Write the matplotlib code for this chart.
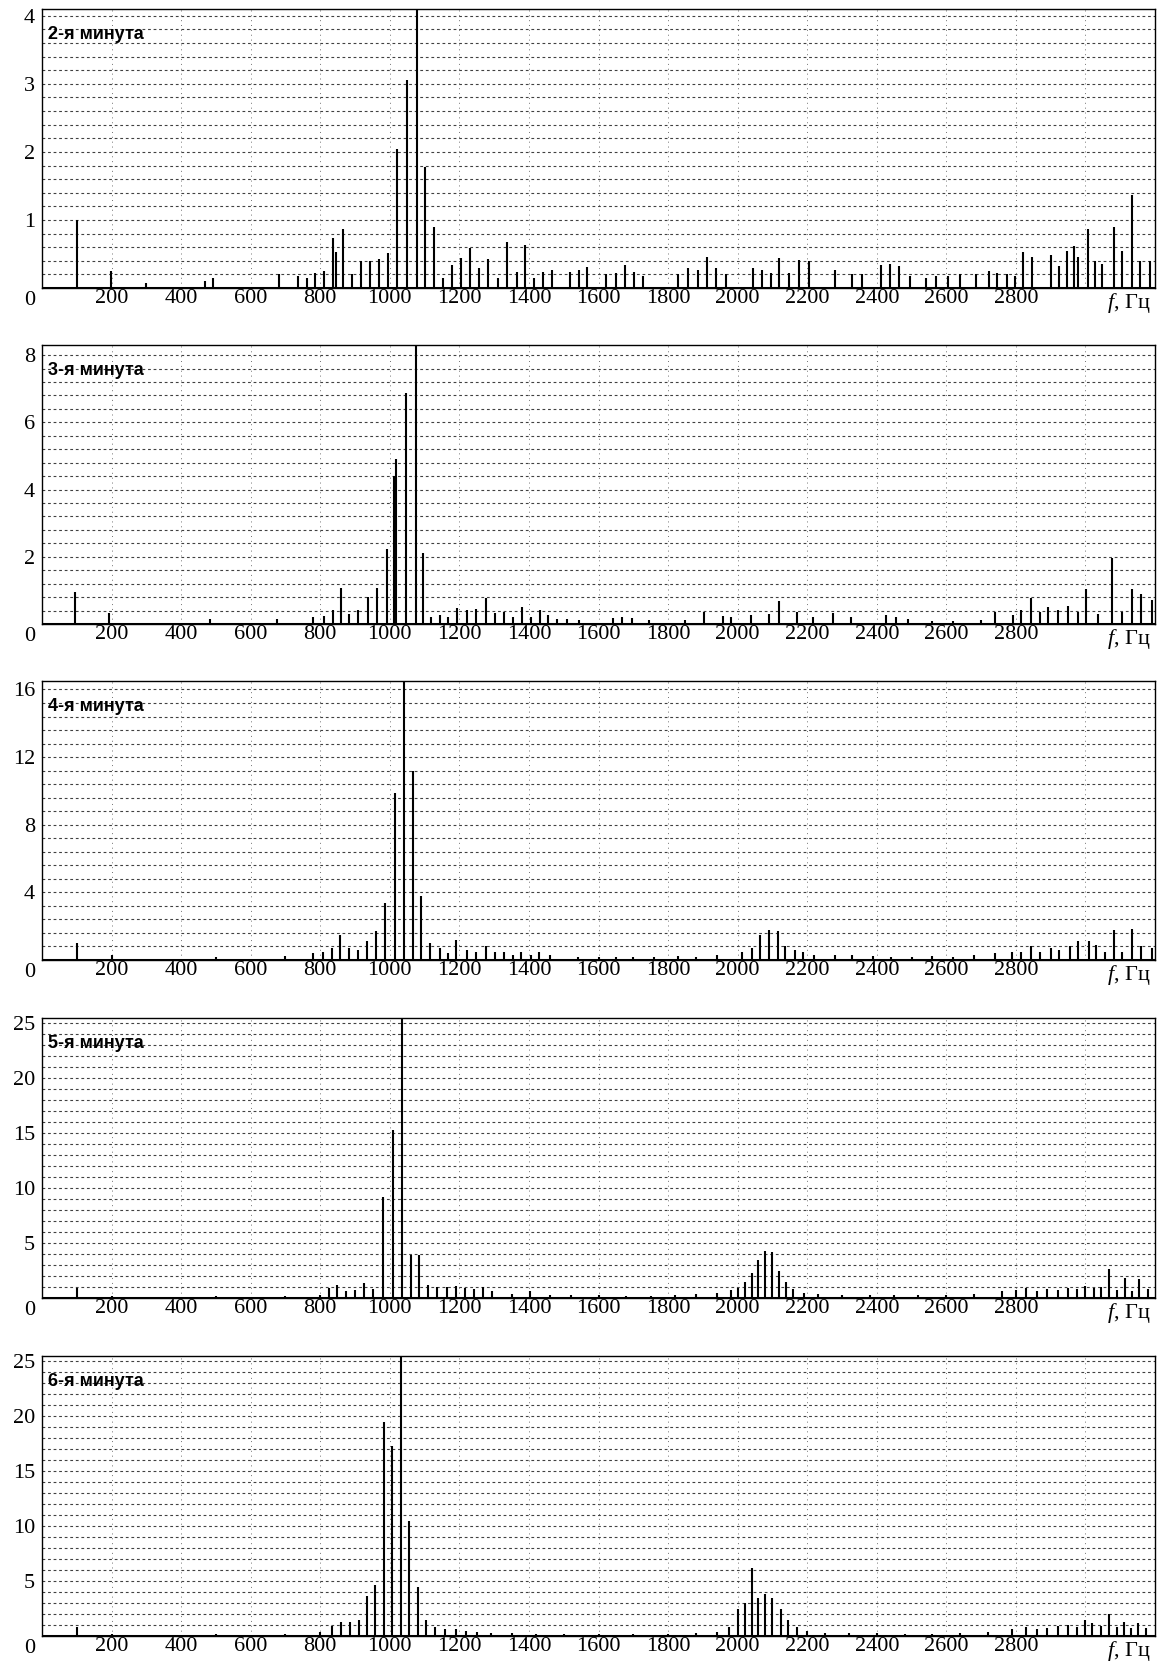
import matplotlib
matplotlib.use("Agg")
import matplotlib.pyplot as plt
import numpy as np

plt.rcParams['font.family'] = ['Liberation Serif', 'DejaVu Serif']
plt.rcParams['mathtext.fontset'] = 'custom'
plt.rcParams['mathtext.rm'] = 'Liberation Serif'
plt.rcParams['mathtext.it'] = 'Liberation Serif:italic'

# spectral lines: (frequency, Hz ; amplitude)
peaks_min2 = [
    (100, 1.0), (197, 0.25), (298, 0.08), (470, 0.1), (493, 0.15), (680, 0.2),
    (737, 0.18), (761, 0.15), (786, 0.22), (812, 0.25), (837, 0.73), (845, 0.53),
    (866, 0.87), (892, 0.2), (917, 0.39), (943, 0.39), (969, 0.42), (995, 0.52),
    (1021, 2.05), (1049, 3.05), (1078, 4.1), (1101, 1.78), (1127, 0.9), (1153, 0.15),
    (1178, 0.34), (1204, 0.44), (1230, 0.59), (1256, 0.3), (1282, 0.42), (1310, 0.15),
    (1336, 0.67), (1365, 0.24), (1388, 0.63), (1414, 0.15), (1440, 0.24), (1465, 0.27),
    (1517, 0.23), (1543, 0.27), (1568, 0.31), (1623, 0.2), (1649, 0.22), (1675, 0.34),
    (1701, 0.23), (1729, 0.17), (1829, 0.2), (1858, 0.29), (1887, 0.27), (1911, 0.46),
    (1938, 0.3), (1966, 0.2), (2045, 0.3), (2070, 0.27), (2097, 0.22), (2120, 0.44),
    (2148, 0.22), (2177, 0.41), (2206, 0.4), (2281, 0.27), (2330, 0.2), (2358, 0.2),
    (2412, 0.34), (2438, 0.36), (2464, 0.33), (2495, 0.17), (2541, 0.15), (2570, 0.18),
    (2604, 0.17), (2638, 0.2), (2685, 0.2), (2723, 0.25), (2745, 0.22), (2774, 0.2),
    (2797, 0.17), (2820, 0.53), (2845, 0.46), (2900, 0.49), (2923, 0.32), (2946, 0.55),
    (2966, 0.61), (2980, 0.46), (3006, 0.87), (3027, 0.4), (3047, 0.35), (3081, 0.89),
    (3104, 0.55), (3135, 1.37), (3158, 0.4), (3187, 0.4),
]

peaks_min3 = [
    (94, 0.95), (192, 0.32), (484, 0.15), (675, 0.15), (780, 0.2), (812, 0.25),
    (836, 0.42), (859, 1.08), (884, 0.3), (909, 0.42), (938, 0.81), (964, 1.08),
    (992, 2.22), (1013, 4.4), (1018, 4.92), (1046, 6.88), (1074, 8.3), (1094, 2.12),
    (1118, 0.2), (1144, 0.27), (1168, 0.2), (1193, 0.48), (1221, 0.42), (1249, 0.45),
    (1276, 0.78), (1302, 0.33), (1327, 0.37), (1354, 0.2), (1381, 0.52), (1405, 0.2),
    (1431, 0.42), (1454, 0.27), (1480, 0.15), (1510, 0.15), (1545, 0.12), (1641, 0.18),
    (1669, 0.2), (1695, 0.18), (1745, 0.12), (1850, 0.12), (1904, 0.37), (1957, 0.24),
    (1982, 0.2), (2039, 0.27), (2090, 0.3), (2119, 0.67), (2171, 0.37), (2217, 0.2),
    (2274, 0.32), (2325, 0.2), (2427, 0.27), (2455, 0.2), (2489, 0.15), (2560, 0.1),
    (2620, 0.1), (2700, 0.12), (2740, 0.37), (2791, 0.27), (2815, 0.42), (2843, 0.78),
    (2870, 0.37), (2893, 0.5), (2921, 0.42), (2951, 0.55), (2980, 0.37), (3002, 1.05),
    (3037, 0.3), (3076, 1.97), (3104, 0.37), (3133, 1.05), (3159, 0.9), (3190, 0.72),
]

peaks_min4 = [
    (100, 1.0), (200, 0.3), (500, 0.2), (700, 0.25), (780, 0.4), (808, 0.5),
    (834, 0.7), (857, 1.5), (884, 0.7), (909, 0.6), (934, 1.1), (960, 1.7),
    (986, 3.4), (1015, 9.9), (1041, 16.5), (1067, 11.2), (1089, 3.8), (1115, 1.0),
    (1144, 0.7), (1168, 0.4), (1190, 1.2), (1221, 0.6), (1249, 0.5), (1276, 0.8),
    (1302, 0.5), (1328, 0.5), (1355, 0.3), (1378, 0.5), (1405, 0.3), (1429, 0.5),
    (1460, 0.3), (1540, 0.2), (1600, 0.2), (1650, 0.2), (1700, 0.2), (1760, 0.2),
    (1830, 0.25), (1880, 0.2), (1940, 0.3), (2012, 0.5), (2040, 0.7), (2063, 1.5),
    (2089, 1.8), (2115, 1.7), (2137, 0.8), (2166, 0.6), (2189, 0.5), (2220, 0.3),
    (2280, 0.3), (2330, 0.3), (2390, 0.25), (2440, 0.2), (2500, 0.2), (2560, 0.25),
    (2620, 0.2), (2680, 0.3), (2740, 0.4), (2790, 0.5), (2815, 0.5), (2843, 0.8),
    (2870, 0.5), (2900, 0.7), (2923, 0.6), (2957, 0.8), (2980, 1.1), (3009, 1.1),
    (3030, 0.9), (3055, 0.5), (3082, 1.8), (3106, 0.5), (3133, 1.85), (3161, 0.8),
    (3190, 0.7),
]

peaks_min5 = [
    (100, 0.9), (200, 0.2), (500, 0.2), (700, 0.2), (800, 0.3), (824, 0.9),
    (848, 1.2), (875, 0.6), (900, 0.7), (925, 1.4), (952, 0.8), (981, 9.2),
    (1008, 15.3), (1034, 25.5), (1061, 3.9), (1084, 3.9), (1110, 1.2), (1136, 1.0),
    (1163, 1.0), (1190, 1.1), (1216, 0.9), (1242, 0.8), (1268, 1.0), (1295, 0.6),
    (1350, 0.4), (1402, 0.6), (1460, 0.3), (1520, 0.3), (1600, 0.3), (1680, 0.2),
    (1750, 0.2), (1820, 0.3), (1880, 0.4), (1940, 0.5), (1980, 0.7), (2000, 0.9),
    (2020, 1.5), (2040, 2.3), (2060, 3.5), (2080, 4.3), (2100, 4.2), (2120, 2.5),
    (2140, 1.5), (2160, 0.8), (2190, 0.5), (2230, 0.4), (2300, 0.3), (2380, 0.3),
    (2450, 0.3), (2520, 0.3), (2600, 0.3), (2680, 0.4), (2760, 0.6), (2800, 0.7),
    (2830, 0.9), (2860, 0.6), (2890, 0.8), (2920, 0.7), (2950, 0.9), (2975, 0.8),
    (3000, 1.1), (3025, 0.9), (3045, 1.0), (3067, 2.6), (3090, 0.7), (3115, 1.8),
    (3135, 0.6), (3153, 1.7), (3180, 0.8),
]

peaks_min6 = [
    (100, 0.8), (200, 0.2), (500, 0.2), (700, 0.2), (800, 0.4), (835, 0.9),
    (860, 1.3), (885, 1.3), (910, 1.5), (935, 3.6), (958, 4.6), (983, 19.5),
    (1007, 17.3), (1031, 25.5), (1056, 10.5), (1080, 4.5), (1105, 1.5), (1130, 0.8),
    (1160, 0.6), (1190, 0.6), (1220, 0.5), (1250, 0.4), (1290, 0.3), (1350, 0.3),
    (1420, 0.2), (1500, 0.2), (1600, 0.2), (1700, 0.2), (1800, 0.2), (1880, 0.3),
    (1940, 0.4), (1975, 0.8), (2000, 2.5), (2020, 3.0), (2040, 6.2), (2060, 3.5),
    (2080, 3.8), (2100, 3.5), (2125, 2.5), (2145, 1.5), (2170, 0.8), (2200, 0.5),
    (2250, 0.3), (2320, 0.3), (2400, 0.3), (2480, 0.2), (2560, 0.2), (2640, 0.3),
    (2720, 0.4), (2790, 0.6), (2830, 0.8), (2860, 0.6), (2890, 0.7), (2920, 0.9),
    (2950, 1.0), (2975, 0.8), (3000, 1.5), (3020, 1.2), (3045, 0.9), (3068, 2.0),
    (3090, 0.8), (3110, 1.3), (3130, 0.7), (3150, 1.2), (3175, 0.7),
]

titles = ['2-я минута', '3-я минута', '4-я минута', '5-я минута', '6-я минута']
all_peaks = [peaks_min2, peaks_min3, peaks_min4, peaks_min5, peaks_min6]
y_tops = [4.1, 8.3, 16.5, 25.5, 25.5]
y_grid_steps = [0.2, 0.4, 0.8, 1.0, 1.0]
y_ticks = [[1, 2, 3, 4], [2, 4, 6, 8], [4, 8, 12, 16], [5, 10, 15, 20, 25], [5, 10, 15, 20, 25]]
x_ticks = list(range(200, 3000, 200))

W, H = 1164, 1662
fig = plt.figure(figsize=(W / 100, H / 100), dpi=100)

# panel boxes in pixels (top, bottom)
boxes = [(9, 288), (345, 624), (681, 960), (1018, 1298), (1356, 1636)]
left_px, right_px = 42, 1155

for i in range(5):
    top, bot = boxes[i]
    ax = fig.add_axes([left_px / W, 1 - bot / H, (right_px - left_px) / W, (bot - top) / H])
    ax.set_xlim(0, 3200)
    ax.set_ylim(0, y_tops[i])

    # dashed horizontal grid
    for yv in np.arange(y_grid_steps[i], y_tops[i] - 1e-6, y_grid_steps[i]):
        ax.axhline(yv, color='0.25', lw=0.8, ls=(0, (2.5, 2.5)), zorder=1)
    # faint dotted vertical grid every 200 Hz
    for xv in range(200, 3200, 200):
        ax.axvline(xv, color='0.45', lw=0.7, ls=(0, (1, 4)), zorder=1)

    f = [p[0] for p in all_peaks[i]]
    a = [p[1] for p in all_peaks[i]]
    ax.vlines(f, 0, a, color='black', lw=1.5, zorder=3)
    ax.axhline(0, color='black', lw=2.2, zorder=4)

    for s in ax.spines.values():
        s.set_color('black')
        s.set_linewidth(1.0)

    ax.set_yticks(y_ticks[i])
    ax.set_yticklabels([str(t) for t in y_ticks[i]])
    ax.set_xticks(x_ticks)
    ax.set_xticklabels([str(t) for t in x_ticks])
    ax.tick_params(axis='both', length=0, labelsize=16)
    ax.tick_params(axis='y', pad=5)
    ax.tick_params(axis='x', pad=1)

    ax.annotate('0', xy=(0, 0), xycoords='axes fraction', xytext=(-12, -3),
                textcoords='offset pixels', ha='center', va='top', fontsize=16)
    ax.annotate('$f$, Гц', xy=(1, 0), xycoords='axes fraction', xytext=(-4, -3),
                textcoords='offset pixels', ha='right', va='top', fontsize=16)
    ax.annotate(titles[i], xy=(0, 1), xycoords='axes fraction', xytext=(6, -17),
                textcoords='offset pixels', ha='left', va='top', fontsize=13,
                fontweight='bold', family=['Liberation Sans', 'DejaVu Sans'], zorder=5)

fig.savefig('out.png', dpi=100)
